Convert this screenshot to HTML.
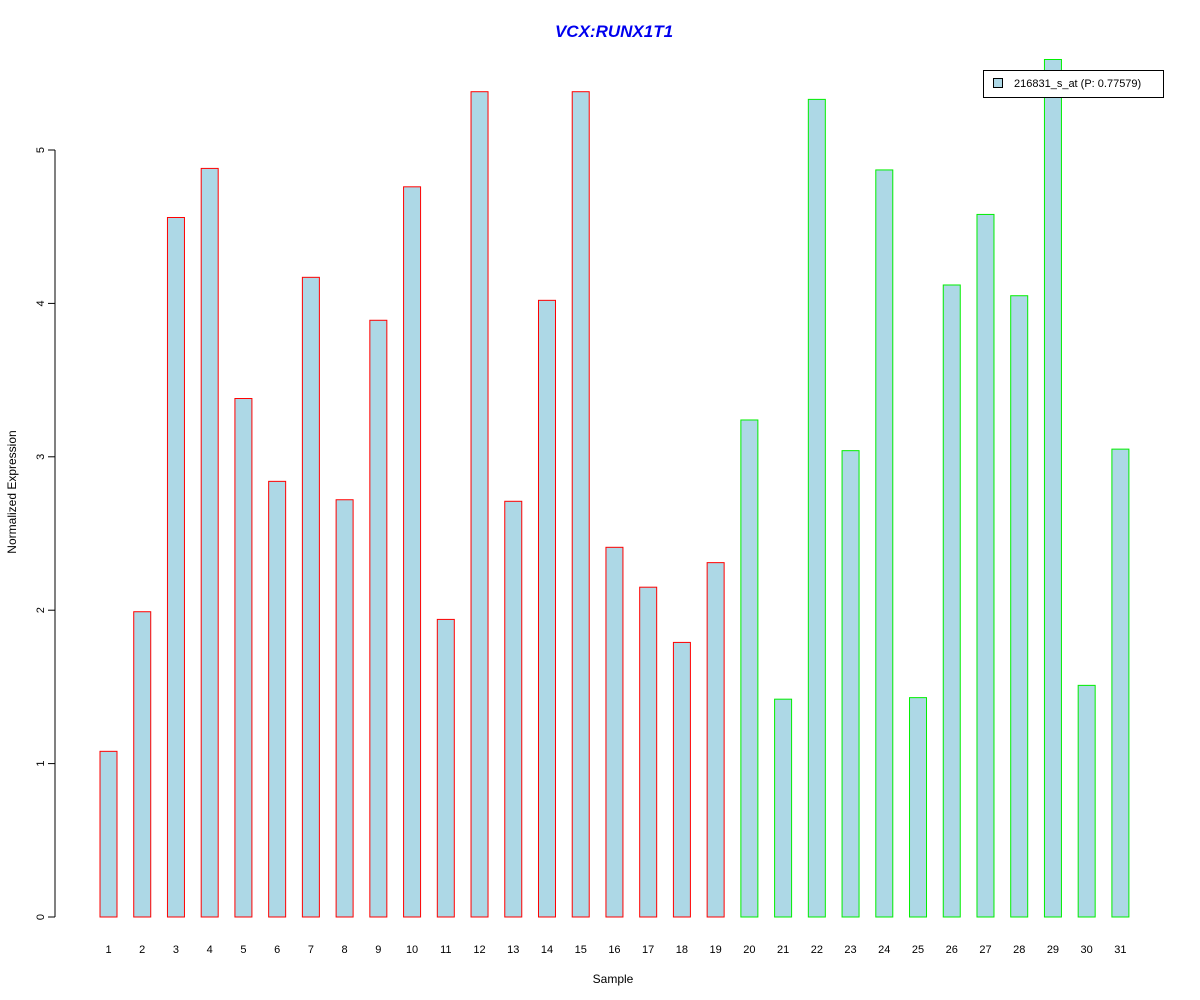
<!DOCTYPE html>
<html><head><meta charset="utf-8"><style>
body{margin:0;background:#fff}
svg{display:block;font-family:"Liberation Sans",Arial,sans-serif}
</style></head><body>
<svg width="1200" height="1000" id="chart">
<text x="614" y="37" text-anchor="middle" font-size="17" font-weight="bold" font-style="italic" fill="#0000ee">VCX:RUNX1T1</text>
<text x="613" y="983" text-anchor="middle" font-size="12">Sample</text>
<text transform="translate(16,492) rotate(-90)" text-anchor="middle" font-size="12">Normalized Expression</text>
<line x1="55" y1="150" x2="55" y2="917" stroke="#000"/>
<g id="yticks"></g>
<g id="bars"></g>
<g id="xlabels"></g>
<g>
<rect x="983.5" y="70.5" width="180" height="27" fill="#fff" stroke="#000"/>
<rect x="993.5" y="78.5" width="9" height="9" fill="#add8e6" stroke="#000"/>
<text x="1014" y="87" font-size="11">216831_s_at (P: 0.77579)</text>
</g>
</svg>
<script>
const categories = ["1","2","3","4","5","6","7","8","9","10","11","12","13","14","15","16","17","18","19","20","21","22","23","24","25","26","27","28","29","30","31"];
const values = [1.08,1.99,4.56,4.88,3.38,2.84,4.17,2.72,3.89,4.76,1.94,5.38,2.71,4.02,5.38,2.41,2.15,1.79,2.31,3.24,1.42,5.33,3.04,4.87,1.43,4.12,4.58,4.05,5.59,1.51,3.05];
const groups = ["a","a","a","a","a","a","a","a","a","a","a","a","a","a","a","a","a","a","a","b","b","b","b","b","b","b","b","b","b","b","b"];
const yTicks = [0,1,2,3,4,5];
const NS="http://www.w3.org/2000/svg";
function y(v){return 917 - v*153.4;}
function xc(i){return 108.5 + i*33.73;}
const yt=document.getElementById('yticks');
yTicks.forEach(t=>{
  const l=document.createElementNS(NS,'line');
  l.setAttribute('x1',48);l.setAttribute('x2',55);l.setAttribute('y1',y(t));l.setAttribute('y2',y(t));l.setAttribute('stroke','#000');
  
  
  yt.appendChild(l);
  const tx=document.createElementNS(NS,'text');
  tx.setAttribute('transform',`translate(44,${y(t)}) rotate(-90)`);tx.setAttribute('text-anchor','middle');tx.setAttribute('font-size','11');tx.textContent=t;
  
  
  yt.appendChild(tx);
});
const bg=document.getElementById('bars'), xg=document.getElementById('xlabels');
values.forEach((v,i)=>{
  const r=document.createElementNS(NS,'rect');
  r.setAttribute('x',xc(i)-8.5);r.setAttribute('width',17);r.setAttribute('y',y(v));r.setAttribute('height',917-y(v));
  r.setAttribute('fill','#add8e6');r.setAttribute('stroke',groups[i]==='a'?'#ff0000':'#00ee00');
  
  
  bg.appendChild(r);
  const t=document.createElementNS(NS,'text');
  t.setAttribute('x',xc(i));t.setAttribute('y',953);t.setAttribute('text-anchor','middle');t.setAttribute('font-size','11');t.textContent=categories[i];
  
  
  xg.appendChild(t);
});
</script>
</body></html>
